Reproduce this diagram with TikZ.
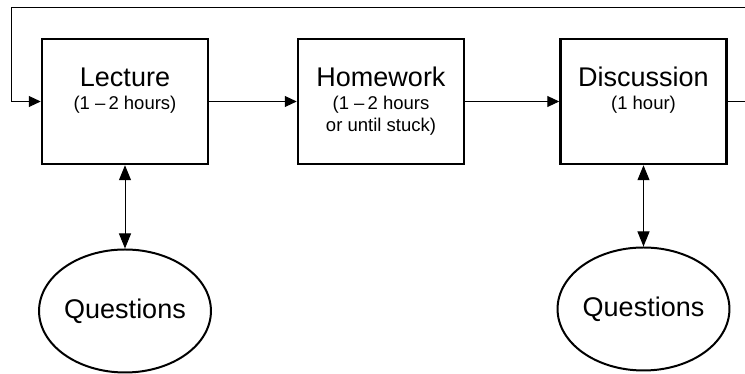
\documentclass[tikz,border=0pt]{standalone}
\usepackage{fontspec}
\setmainfont{Liberation Sans}
\usetikzlibrary{arrows.meta,positioning,shapes.geometric}

\begin{document}
\begin{tikzpicture}[x=1pt,y=1pt,
		box/.style={draw,line width=2.5pt,minimum width=166pt,minimum height=125pt,inner sep=0pt},
		bubble/.style={draw,ellipse,line width=2pt,minimum width=164pt,minimum height=123pt,inner sep=0pt,font=\fontsize{27}{32}\selectfont},
		head/.style={anchor=base,inner sep=0pt,font=\fontsize{27}{32}\selectfont},
		sub/.style={anchor=base,inner sep=0pt,font=\fontsize{18.5}{21.5}\selectfont},
		link/.style={line width=1pt,-{Triangle[length=12pt,width=11pt]}},
		ask/.style={line width=1pt,{Triangle[length=15pt,width=12pt]}-{Triangle[length=15pt,width=12pt]}}]
	\useasboundingbox (0,0) rectangle (745,374);
	\clip (0,0) rectangle (745,374);
	% the three stages
	\node[box] (lecture) at (125,272.5) {};
	\node[box] (homework) at (381,272.5) {};
	\node[box] (discussion) at (643.5,272.5) {};
	\node[head] (lecturename) at ([yshift=-49pt]lecture.north) {Lecture};
	\node[sub] (lecturetime) at ([yshift=-72pt]lecture.north) {(1 –\,2 hours)};
	\node[head] (homeworkname) at ([yshift=-49pt]homework.north) {Homework};
	\node[sub] (homeworktime) at ([yshift=-72pt]homework.north)
		{\begin{tabular}[t]{@{}c@{}}(1 –\,2 hours\\or until stuck)\end{tabular}};
	\node[head] (discussionname) at ([yshift=-49pt]discussion.north) {Discussion};
	\node[sub] (discussiontime) at ([yshift=-72pt]discussion.north) {(1 hour)};
	% questions below
	\node[bubble] (askleft) at (125,63) {Questions};
	\node[bubble] (askright) at (643.5,65) {Questions};
	\coordinate (loopright) at (770,366);
	\coordinate (loopleft) at (11,366);
	\draw[link] (lecture) -- (homework);
	\draw[link] (homework) -- (discussion);
	\draw[link] (discussion.east) -| (loopright) -- (loopleft) |- (lecture.west);
	\draw[ask] (lecture) -- (askleft);
	\draw[ask] (discussion) -- (askright);
\end{tikzpicture}
\end{document}
